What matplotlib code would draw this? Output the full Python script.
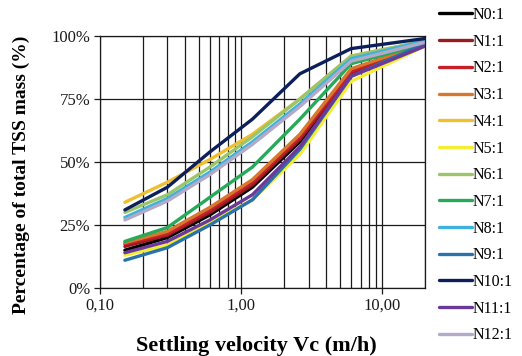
import matplotlib
matplotlib.use("Agg")
import matplotlib.pyplot as plt
from matplotlib.ticker import FixedLocator, NullFormatter

plt.rcParams['font.family'] = ['Liberation Serif', 'DejaVu Serif']

# settling velocity classes (m/h)
vc = [0.15, 0.3, 0.6, 1.2, 2.6, 6.0, 20.0]

labels = ['N0:1', 'N1:1', 'N2:1', 'N3:1', 'N4:1', 'N5:1', 'N6:1',
          'N7:1', 'N8:1', 'N9:1', 'N10:1', 'N11:1', 'N12:1']
colors = ['#000000', '#9a1b1f', '#c8202b', '#d6782e', '#efbf2f', '#f4ee33',
          '#9cc46a', '#27a95a', '#3db3dc', '#2a73aa', '#0c1f5a', '#6b3a98', '#b2aac8']

# cumulative % of total TSS mass
n0 = [15.0, 20.0, 29.0, 40.0, 58.0, 85.0, 97.0]
n1 = [16.5, 21.0, 30.0, 41.0, 59.0, 85.0, 96.5]
n2 = [17.5, 21.5, 31.0, 42.0, 60.0, 86.0, 97.0]
n3 = [18.0, 22.5, 32.0, 43.0, 61.0, 87.0, 97.0]
n4 = [34.0, 42.0, 51.0, 61.0, 75.0, 92.0, 98.0]
n5 = [13.0, 17.0, 26.0, 35.0, 53.0, 82.0, 96.0]
n6 = [30.0, 37.0, 48.0, 60.0, 75.0, 92.0, 98.0]
n7 = [18.5, 24.0, 36.0, 48.0, 67.0, 89.0, 97.0]
n8 = [28.0, 35.5, 46.0, 58.0, 73.0, 91.0, 98.0]
n9 = [11.0, 16.0, 25.0, 35.0, 55.0, 84.0, 97.0]
n10 = [31.0, 40.0, 54.0, 67.0, 85.0, 95.0, 99.0]
n11 = [14.0, 18.5, 27.0, 37.0, 56.0, 84.0, 96.0]
n12 = [27.0, 34.5, 45.0, 57.0, 72.0, 90.0, 97.5]
series = [n0, n1, n2, n3, n4, n5, n6, n7, n8, n9, n10, n11, n12]

fig = plt.figure(figsize=(5.22, 3.56), dpi=100)
ax = fig.add_axes([100/522, 1-288/356, 325/522, 252/356])

for s, c, lab in zip(series, colors, labels):
    ax.plot(vc, s, color=c, lw=2.4, label=lab, solid_capstyle='round')

ax.set_xscale('log')
ax.set_xlim(0.1, 20)
ax.set_ylim(0, 100)

ax.set_xticks([0.1, 1, 10])
ax.set_xticklabels(['0,10', '1,00', '10,00'])
minors = [k * 10.0**e for e in (-1, 0) for k in range(2, 10)] + [20]
ax.xaxis.set_minor_locator(FixedLocator(minors))
ax.xaxis.set_minor_formatter(NullFormatter())
ax.set_yticks([0, 25, 50, 75, 100])
ax.set_yticklabels(['0%', '25%', '50%', '75%', '100%'])

ax.grid(True, which='both', color='#1a1a1a', lw=0.9)
ax.set_axisbelow(True)
ax.tick_params(axis='both', which='major', direction='out', length=4,
               width=0.9, labelsize=12, colors='#1a1a1a', pad=3)
ax.tick_params(axis='x', which='minor', length=0)
for sp in ax.spines.values():
    sp.set_color('#1a1a1a')
    sp.set_linewidth(0.9)

ax.set_xlabel('Settling velocity Vc (m/h)', fontsize=16, fontweight='bold')
ax.set_ylabel('Percentage of total TSS mass (%)', fontsize=14, fontweight='bold')
ax.xaxis.set_label_coords(0.48, -0.19)
ax.yaxis.set_label_coords(-0.215, 0.45)

fig.legend(loc='upper left', bbox_to_anchor=(439/522, 1-7/356), frameon=False,
           fontsize=11.5, handlelength=2.05, handletextpad=0.05,
           labelspacing=0.67, borderpad=0, borderaxespad=0)

fig.savefig('out.png', dpi=100)
